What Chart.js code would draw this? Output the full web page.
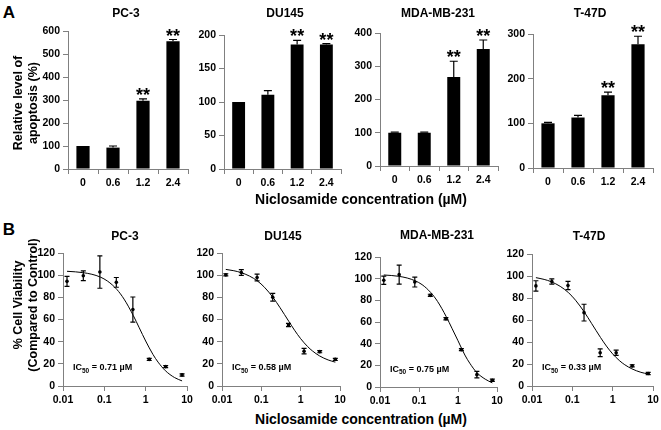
<!DOCTYPE html>
<html><head><meta charset="utf-8">
<script src="https://cdn.jsdelivr.net/npm/chart.js@4/dist/chart.umd.min.js"></script>
<style>
html,body{margin:0;padding:0;background:#fff;}
#wrap{position:relative;width:661px;height:430px;overflow:hidden;font-family:"Liberation Sans",Arial,sans-serif;background:#fff;}
canvas{position:absolute;}
.t{position:absolute;font-weight:bold;color:#000;white-space:nowrap;transform:translate(-50%,-50%);line-height:1;}
.yt{position:absolute;width:220px;font-weight:bold;font-size:12.5px;text-align:center;transform:translate(-50%,-50%) rotate(-90deg);line-height:14.5px;color:#000;white-space:nowrap;}
</style></head><body><div id="wrap"></div>
<script>
// ---------- DATA ----------
const doseLabels = ['0', '0.6', '1.2', '2.4'];
const significant = [false, false, true, true];

const pc3Apoptosis = [100, 93, 297, 555];
const pc3ApoptosisErr = [0, 7, 8, 8];
const du145Apoptosis = [100, 111, 186, 186];
const du145ApoptosisErr = [0, 6, 6, 1];
const mdaApoptosis = [100, 100, 268, 352];
const mdaApoptosisErr = [2, 2, 47, 27];
const t47dApoptosis = [100, 113, 163, 277];
const t47dApoptosisErr = [2, 5, 7, 18];

const concentrations = [0.0125, 0.031, 0.078, 0.195, 0.49, 1.22, 3.05, 7.6];
const pc3Viability = [94.4, 99.5, 102.8, 93.5, 69, 24, 17.5, 10];
const pc3ViabilityErr = [4.5, 4.4, 14.6, 4.4, 11.3, 1, 1, 1];
const du145Viability = [100.3, 102.4, 97.9, 80, 55, 31.4, 31, 24];
const du145ViabilityErr = [1, 2.6, 3, 3.5, 1.5, 2.5, 1, 1];
const mdaViability = [98.5, 103.7, 96.9, 84.6, 63, 34.5, 11.4, 6.2];
const mdaViabilityErr = [3.8, 8.8, 4.6, 1, 1, 1, 3, 1];
const t47dViability = [91, 95, 91.4, 66.7, 30.2, 30.2, 18.3, 11.3];
const t47dViabilityErr = [4.7, 2.3, 3.8, 7.6, 3.5, 2.4, 1, 1];

const fitX = [0.0125, 0.02, 0.03, 0.05, 0.08, 0.12, 0.2, 0.3, 0.5, 0.7, 1, 1.5, 2, 3, 5, 7.6];
const pc3Fit = [103.5, 103.0, 102.3, 100.8, 98.3, 94.6, 87.2, 78.4, 63.7, 52.5, 40.6, 28.5, 21.5, 13.8, 7.6, 4.6];
const du145Fit = [105.2, 104.0, 102.4, 99.2, 94.7, 89.1, 79.7, 70.6, 58.3, 50.3, 42.7, 35.6, 31.6, 27.2, 23.5, 21.5];
const mdaFit = [103.4, 102.9, 102.2, 100.6, 98.0, 94.5, 87.2, 78.9, 64.9, 54.2, 42.7, 29.5, 22.0, 13.5, 7.2, 3.8];
const t47dFit = [98.5, 96.9, 94.8, 90.6, 84.9, 78.0, 67.0, 56.9, 44.1, 36.3, 29.2, 22.8, 19.3, 15.6, 12.45, 10.9];

const ic50Values = ['0.71', '0.58', '0.75', '0.33'];
const logTicks = [0.01, 0.1, 1, 10];

// ---------- LAYOUT ----------
const FONT = '"Liberation Sans", Arial, sans-serif';
const AXIS = '#808080';
const WY = 40, HX = 24, PT = 16, PR = 14;
const wrap = document.getElementById('wrap');

function place(box) {
  const c = document.createElement('canvas');
  const w = box.r - box.l + WY + PR, h = box.b - box.t + PT + HX;
  c.width = w; c.height = h;
  c.style.left = (box.l - WY) + 'px'; c.style.top = (box.t - PT) + 'px';
  c.style.width = w + 'px'; c.style.height = h + 'px';
  wrap.appendChild(c);
  return c;
}
function label(text, x, y, size, cls) {
  const d = document.createElement('div');
  d.className = cls || 't';
  d.innerHTML = text;
  d.style.left = x + 'px'; d.style.top = y + 'px';
  if (size) d.style.fontSize = size + 'px';
  wrap.appendChild(d);
}

function scaleBase(extra, isX) {
  return Object.assign({
    border: { display: true, color: AXIS, width: 1 },
    grid: { display: true, drawOnChartArea: false, drawTicks: true, tickLength: 5, color: AXIS, lineWidth: 1 },
    ticks: { color: '#000', font: { family: FONT, size: 10.5, weight: 'bold' }, padding: 3, maxRotation: 0, autoSkip: false },
    afterFit: isX ? (s) => { s.height = HX; } : (s) => { s.width = WY; }
  }, extra);
}

const errorPlugin = {
  id: 'errorBars',
  afterDatasetsDraw(chart) {
    const ctx = chart.ctx;
    const ys = chart.scales.y;
    chart.data.datasets.forEach((ds, di) => {
      if (!ds.errs) return;
      const meta = chart.getDatasetMeta(di);
      ctx.save();
      ctx.strokeStyle = '#000';
      ctx.fillStyle = '#000';
      ctx.lineWidth = 1.2;
      meta.data.forEach((el, i) => {
        const raw = ds.data[i];
        const v = typeof raw === 'number' ? raw : raw.y;
        const e = ds.errs[i];
        const x = el.x;
        const top = ys.getPixelForValue(v + e);
        const bot = ds.errMode === 'up' ? ys.getPixelForValue(v) : ys.getPixelForValue(v - e);
        const cap = ds.errCap;
        if (e > 0) {
          ctx.beginPath();
          ctx.moveTo(x, bot); ctx.lineTo(x, top);
          ctx.moveTo(x - cap / 2, top); ctx.lineTo(x + cap / 2, top);
          if (ds.errMode !== 'up') { ctx.moveTo(x - cap / 2, bot); ctx.lineTo(x + cap / 2, bot); }
          ctx.stroke();
        }
        if (ds.stars && ds.stars[i]) {
          ctx.font = 'bold 18px ' + FONT;
          ctx.textAlign = 'center';
          ctx.textBaseline = 'alphabetic';
          ctx.fillText('**', x, top + 2);
        }
      });
      ctx.restore();
    });
  }
};

const icPlugin = {
  id: 'icText',
  afterDraw(chart, args, opts) {
    if (!opts || !opts.value) return;
    const ctx = chart.ctx;
    const x0 = chart.chartArea.left + 10;
    const y = chart.scales.y.getPixelForValue(17) + 3;
    ctx.save();
    ctx.fillStyle = '#000';
    ctx.textAlign = 'left';
    ctx.textBaseline = 'alphabetic';
    ctx.font = 'bold 9px ' + FONT;
    ctx.fillText('IC', x0, y);
    let x = x0 + ctx.measureText('IC').width;
    ctx.font = 'bold 6.5px ' + FONT;
    ctx.fillText('50', x, y + 2.5);
    x += ctx.measureText('50').width;
    ctx.font = 'bold 9px ' + FONT;
    ctx.fillText(' = ' + opts.value + ' \u00B5M', x, y);
    ctx.restore();
  }
};

function barChart(box, values, errs, ymax, ystep) {
  new Chart(place(box), {
    type: 'bar',
    data: {
      labels: doseLabels,
      datasets: [{
        data: values, errs: errs, errMode: 'up', errCap: 8, stars: significant,
        backgroundColor: '#000', borderWidth: 0, barPercentage: 0.44, categoryPercentage: 1
      }]
    },
    options: {
      responsive: false, animation: false, devicePixelRatio: 1,
      layout: { padding: { top: PT, right: PR, left: 0, bottom: 0 } },
      plugins: { legend: { display: false }, tooltip: { enabled: false }, title: { display: false } },
      scales: {
        x: scaleBase({ type: 'category', offset: true, grid: { display: true, drawOnChartArea: false, drawTicks: true, tickLength: 5, color: AXIS, lineWidth: 1, offset: true } }, true),
        y: scaleBase({ type: 'linear', min: 0, max: ymax, ticks: { stepSize: ystep, color: '#000', font: { family: FONT, size: 10.5, weight: 'bold' }, padding: 3 } }, false)
      }
    },
    plugins: [errorPlugin]
  });
}

function doseChart(box, values, errs, fit, ic) {
  new Chart(place(box), {
    type: 'scatter',
    data: {
      datasets: [
        {
          type: 'line', data: fitX.map((x, i) => ({ x: x, y: fit[i] })),
          borderColor: '#000', borderWidth: 1, pointRadius: 0, fill: false,
          cubicInterpolationMode: 'monotone', order: 2
        },
        {
          type: 'scatter', data: concentrations.map((x, i) => ({ x: x, y: values[i] })),
          errs: errs, errMode: 'both', errCap: 5,
          pointRadius: 1.8, backgroundColor: '#000', borderWidth: 0, order: 1
        }
      ]
    },
    options: {
      responsive: false, animation: false, devicePixelRatio: 1,
      layout: { padding: { top: PT, right: PR, left: 0, bottom: 0 } },
      plugins: { legend: { display: false }, tooltip: { enabled: false }, icText: { value: ic } },
      scales: {
        x: scaleBase({
          type: 'logarithmic', min: 0.01, max: 10,
          afterBuildTicks: (s) => { s.ticks = logTicks.map(v => ({ value: v })); },
          ticks: { color: '#000', font: { family: FONT, size: 10.5, weight: 'bold' }, padding: 3, maxRotation: 0, autoSkip: false, callback: (v) => String(v) }
        }, true),
        y: scaleBase({ type: 'linear', min: 0, max: 120, ticks: { stepSize: 20, color: '#000', font: { family: FONT, size: 10.5, weight: 'bold' }, padding: 3 } }, false)
      }
    },
    plugins: [errorPlugin, icPlugin]
  });
}

// Panel A
barChart({ l: 68, r: 188, t: 31, b: 169 }, pc3Apoptosis, pc3ApoptosisErr, 600, 100);
barChart({ l: 224, r: 341, t: 35, b: 169 }, du145Apoptosis, du145ApoptosisErr, 200, 50);
barChart({ l: 380, r: 498, t: 33, b: 166 }, mdaApoptosis, mdaApoptosisErr, 400, 100);
barChart({ l: 533, r: 653, t: 34, b: 168 }, t47dApoptosis, t47dApoptosisErr, 300, 100);

// Panel B
doseChart({ l: 63, r: 187, t: 253, b: 386 }, pc3Viability, pc3ViabilityErr, pc3Fit, ic50Values[0]);
doseChart({ l: 222, r: 340, t: 253, b: 386 }, du145Viability, du145ViabilityErr, du145Fit, ic50Values[1]);
doseChart({ l: 380, r: 497, t: 257, b: 387 }, mdaViability, mdaViabilityErr, mdaFit, ic50Values[2]);
doseChart({ l: 532, r: 653, t: 254, b: 386 }, t47dViability, t47dViabilityErr, t47dFit, ic50Values[3]);

// Text
label('A', 9, 12, 17);
label('B', 9, 229, 17);
label('PC-3', 126, 13, 12); label('DU145', 285, 13, 12); label('MDA-MB-231', 438, 13, 12); label('T-47D', 590, 13, 12);
label('PC-3', 125, 236, 12); label('DU145', 283, 236, 12); label('MDA-MB-231', 437, 235, 12); label('T-47D', 589, 236, 12);
label('Niclosamide concentration (\u00B5M)', 361, 199, 14);
label('Niclosamide concentration (\u00B5M)', 361, 419, 14);
label('Relative level of<br>apoptosis (%)', 25, 103, null, 'yt');
label('% Cell Viability<br>(Compared to Control)', 25, 305, null, 'yt');
</script>
</body></html>
